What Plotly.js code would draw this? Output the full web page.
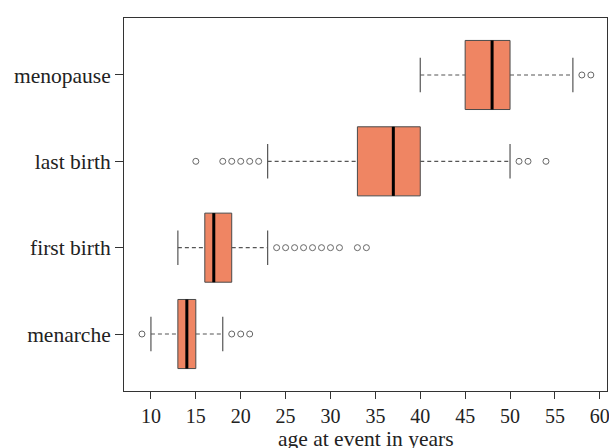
<!DOCTYPE html>
<html>
<head>
<meta charset="utf-8">
<script src="https://cdn.plot.ly/plotly-3.0.1.min.js"></script>
<style>html,body{margin:0;padding:0;background:#fff;}#chart{width:609px;height:448px;}</style>
</head>
<body>
<div id="chart"></div>
<script>
// Data (ages in years)
const categories = ['menarche', 'first birth', 'last birth', 'menopause'];
const q1Values = [13, 16, 33, 45];
const medianValues = [14, 17, 37, 48];
const q3Values = [15, 19, 40, 50];
const lowerWhisker = [10, 13, 23, 40];
const upperWhisker = [18, 23, 50, 57];
const outliersMenarche = [9, 19, 20, 21];
const outliersFirstBirth = [24, 25, 26, 27, 28, 29, 30, 31, 33, 34];
const outliersLastBirth = [15, 18, 19, 20, 21, 22, 51, 52, 54];
const outliersMenopause = [58, 59];
const outlierLists = [outliersMenarche, outliersFirstBirth, outliersLastBirth, outliersMenopause];
const xTitle = 'age at event in years';

const pos = categories.map((c, i) => i + 1);
const boxW = 0.8, capHalf = 0.2;

// box bodies
const boxTrace = {
  type: 'box', orientation: 'h',
  y: pos,
  q1: q1Values, median: medianValues, q3: q3Values,
  lowerfence: q1Values, upperfence: q3Values,
  width: boxW,
  fillcolor: '#EF8563',
  line: {color: '#4a4a4a', width: 1},
  whiskerwidth: 0,
  boxpoints: false,
  hoverinfo: 'skip',
  showlegend: false
};

// whiskers (dashed)
const wx = [], wy = [];
pos.forEach((p, i) => {
  wx.push(lowerWhisker[i], q1Values[i], null, q3Values[i], upperWhisker[i], null);
  wy.push(p, p, null, p, p, null);
});
const whiskerTrace = {
  type: 'scatter', mode: 'lines', x: wx, y: wy,
  line: {color: '#555', width: 1.2, dash: '4px,3px'},
  hoverinfo: 'skip', showlegend: false
};

// whisker caps
const cx = [], cy = [];
pos.forEach((p, i) => {
  cx.push(lowerWhisker[i], lowerWhisker[i], null, upperWhisker[i], upperWhisker[i], null);
  cy.push(p - capHalf, p + capHalf, null, p - capHalf, p + capHalf, null);
});
const capTrace = {
  type: 'scatter', mode: 'lines', x: cx, y: cy,
  line: {color: '#555', width: 1.2},
  hoverinfo: 'skip', showlegend: false
};

// medians
const mx = [], my = [];
pos.forEach((p, i) => {
  mx.push(medianValues[i], medianValues[i], null);
  my.push(p - boxW / 2, p + boxW / 2, null);
});
const medianTrace = {
  type: 'scatter', mode: 'lines', x: mx, y: my,
  line: {color: '#000', width: 3},
  hoverinfo: 'skip', showlegend: false
};

// outliers
const ox = [], oy = [];
outlierLists.forEach((arr, i) => arr.forEach(v => { ox.push(v); oy.push(pos[i]); }));
const outlierTrace = {
  type: 'scatter', mode: 'markers', x: ox, y: oy,
  marker: {symbol: 'circle-open', size: 6, color: '#666', line: {width: 1, color: '#666'}},
  hoverinfo: 'skip', showlegend: false
};

const font = {family: '"Liberation Serif", "Times New Roman", serif', size: 21.5, color: '#222'};
const tickFont = {family: font.family, size: 20, color: '#222'};

const layout = {
  width: 609, height: 448,
  margin: {l: 124, r: 2, t: 18, b: 57},
  paper_bgcolor: '#fff', plot_bgcolor: '#fff',
  font: font,
  showlegend: false,
  xaxis: {
    range: [7, 60.8],
    tickvals: [10, 15, 20, 25, 30, 35, 40, 45, 50, 55, 60],
    ticks: 'outside', ticklen: 7, tickwidth: 1, tickcolor: '#333',
    ticklabeloverflow: 'allow',
    showgrid: false, zeroline: false,
    showline: true, linecolor: '#333', linewidth: 1, mirror: true,
    tickfont: tickFont
  },
  yaxis: {
    range: [0.34, 4.66],
    tickvals: pos, ticktext: categories,
    ticks: 'outside', ticklen: 8, tickwidth: 1, tickcolor: '#333',
    showgrid: false, zeroline: false,
    showline: true, linecolor: '#333', linewidth: 1, mirror: true,
    tickfont: font
  },
  annotations: [{
    text: xTitle, xref: 'paper', yref: 'paper', x: 0.5, y: 0,
    xanchor: 'center', yanchor: 'middle', yshift: -47.5,
    showarrow: false, font: font
  }]
};

Plotly.newPlot('chart', [boxTrace, whiskerTrace, capTrace, medianTrace, outlierTrace], layout, {displayModeBar: false, staticPlot: true});
</script>
</body>
</html>
